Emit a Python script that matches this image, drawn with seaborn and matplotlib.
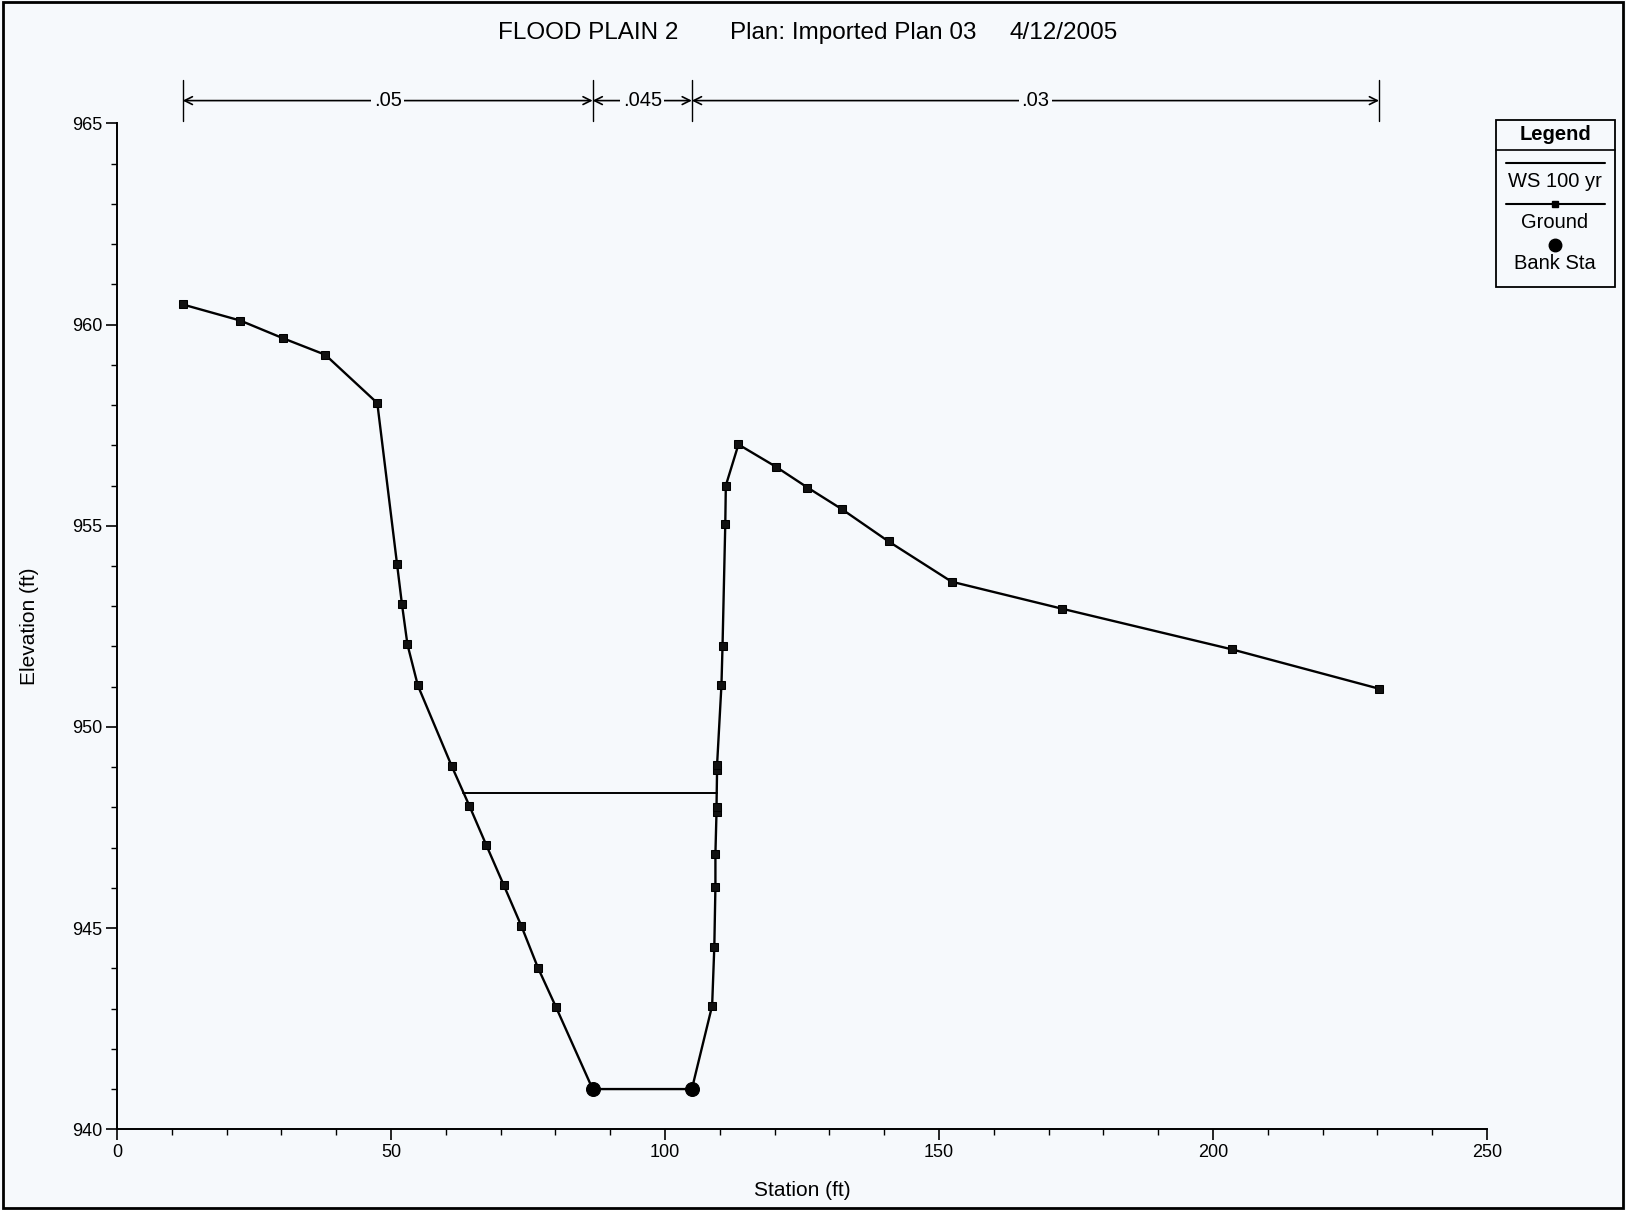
import numpy as np
import pandas as pd
import matplotlib
matplotlib.use("Agg")
import matplotlib.pyplot as plt
from matplotlib.lines import Line2D
from matplotlib.patches import Rectangle
from matplotlib.ticker import MultipleLocator
from matplotlib.transforms import blended_transform_factory
import seaborn as sns

# Cross-section survey (station ft, elevation ft)
ground_station = [12.0, 22.5, 30.3, 38.0, 47.5, 51.1, 52.0, 53.0, 54.9, 61.1,
                  64.3, 67.4, 70.6, 73.8, 76.8, 80.1, 86.8, 104.9, 108.6, 109.0,
                  109.2, 109.2, 109.4, 109.4, 109.5, 109.5, 110.3, 110.5, 111.0, 111.1,
                  113.4, 120.2, 126.0, 132.3, 140.8, 152.3, 172.4, 203.4, 230.3]
ground_elevation = [960.5, 960.1, 959.66, 959.25, 958.05, 954.05, 953.05, 952.05, 951.03, 949.02,
                    948.04, 947.06, 946.06, 945.05, 944.02, 943.04, 941.0, 941.0, 943.07, 944.54,
                    946.03, 946.85, 947.89, 948.0, 948.93, 949.05, 951.04, 952.02, 955.05, 956.0,
                    957.02, 956.47, 955.95, 955.41, 954.61, 953.61, 952.94, 951.93, 950.95]

bank_station = [86.8, 104.9]
bank_elevation = [941.0, 941.0]

ws_elevation = 948.37  # WS 100 yr

n_breaks = [12.0, 86.8, 104.9, 230.3]
n_values = [".05", ".045", ".03"]

title_parts = ["FLOOD PLAIN 2", "Plan: Imported Plan 03", "4/12/2005"]
legend_entries = ["WS 100 yr", "Ground", "Bank Sta"]

W, H = 1626, 1210
BG = "#f6f9fc"

sns.set_theme(style="ticks")
plt.rcParams["font.family"] = ["Liberation Sans", "DejaVu Sans"]

fig = plt.figure(figsize=(W / 100, H / 100), dpi=100, facecolor=BG)


def fx(px):
    return px / W


def fy(py):
    return 1 - py / H


ax_l, ax_r, ax_t, ax_b = 117, 1487, 123.4, 1129.3
ax = fig.add_axes([fx(ax_l), fy(ax_b), fx(ax_r - ax_l), (ax_b - ax_t) / H])
ax.set_facecolor(BG)

ground = pd.DataFrame({"station": ground_station, "elevation": ground_elevation})
banks = pd.DataFrame({"station": bank_station, "elevation": bank_elevation})

# water surface spans between the two ground intersections
i_min = int(np.argmin(ground_elevation))
left = ground.iloc[: i_min + 1]
right_end = int(np.argmax(ground_elevation[i_min + 1:])) + i_min + 1
right = ground.iloc[i_min + 1: right_end + 1]
ws_left = np.interp(ws_elevation, left["elevation"].values[::-1], left["station"].values[::-1])
ws_right = np.interp(ws_elevation, right["elevation"].values, right["station"].values)
ws = pd.DataFrame({"station": [ws_left, ws_right], "elevation": [ws_elevation, ws_elevation]})

sns.lineplot(data=ws, x="station", y="elevation", color="black", lw=1.4, ax=ax,
             sort=False, estimator=None)
sns.lineplot(data=ground, x="station", y="elevation", color="black", lw=1.7, ax=ax,
             sort=False, estimator=None, marker="s", markersize=5.5,
             markeredgecolor="black", markerfacecolor="#111111")
sns.scatterplot(data=banks, x="station", y="elevation", color="black", s=100,
                marker="o", edgecolor="black", ax=ax, zorder=5)

ax.set_xlim(0, 250)
ax.set_ylim(940, 965)
ax.xaxis.set_major_locator(MultipleLocator(50))
ax.xaxis.set_minor_locator(MultipleLocator(10))
ax.yaxis.set_major_locator(MultipleLocator(5))
ax.yaxis.set_minor_locator(MultipleLocator(1))
ax.tick_params(which="major", direction="out", length=8, width=1.2, color="black",
               labelsize=13, labelcolor="black", pad=2.5)
ax.tick_params(which="minor", direction="out", length=4, width=1.0, color="black")
for side in ("top", "right"):
    ax.spines[side].set_visible(False)
for side in ("left", "bottom"):
    ax.spines[side].set_color("black")
    ax.spines[side].set_linewidth(1.4)

ax.set_xlabel("Station (ft)", fontsize=15, color="black")
ax.set_ylabel("Elevation (ft)", fontsize=15, color="black")
ax.xaxis.set_label_coords(0.5, -(1181 - ax_b) / (ax_b - ax_t))
ax.yaxis.set_label_coords(-(ax_l - 39) / (ax_r - ax_l), 0.5)

# Manning's n dimension bar above the plot
trans = blended_transform_factory(ax.transData, ax.transAxes)
span = ax_b - ax_t
y_dim = 1 + (ax_t - 100.6) / span
y_top = 1 + (ax_t - 80) / span
y_bot = 1 + (ax_t - 121) / span
for b in n_breaks:
    ax.plot([b, b], [y_bot, y_top], color="black", lw=1.0, transform=trans, clip_on=False)
for a, b, n in zip(n_breaks[:-1], n_breaks[1:], n_values):
    ax.annotate("", xy=(b, y_dim), xytext=(a, y_dim), xycoords=trans, textcoords=trans,
                arrowprops=dict(arrowstyle="<->", lw=1.2, color="black",
                                shrinkA=0, shrinkB=0, mutation_scale=14),
                annotation_clip=False)
    ax.text((a + b) / 2, y_dim, n, transform=trans, ha="center", va="center",
            fontsize=14.5, color="black", clip_on=False,
            bbox=dict(boxstyle="square,pad=0.12", fc=BG, ec="none"))

# title
for x0, t in zip([497.8, 730, 1009], title_parts):
    fig.text(fx(x0), fy(33), t, ha="left", va="center", fontsize=17.5, color="black")

# legend panel
lx0, lx1, ly0, ly1 = 1495.5, 1614.6, 120.3, 287.3
fig.patches.append(Rectangle((fx(lx0), fy(ly1)), fx(lx1 - lx0), (ly1 - ly0) / H,
                             transform=fig.transFigure, fill=False, ec="black", lw=1.3))
fig.add_artist(Line2D([fx(lx0), fx(lx1)], [fy(150.4), fy(150.4)], transform=fig.transFigure,
                      color="black", lw=1.2))
lcx = (lx0 + lx1) / 2
fig.text(fx(lcx), fy(134), "Legend", ha="center", va="center", fontsize=14.5,
         fontweight="bold", color="black")
fig.add_artist(Line2D([fx(1506), fx(1605)], [fy(162.8), fy(162.8)], transform=fig.transFigure,
                      color="black", lw=1.5))
fig.text(fx(lcx), fy(181.5), legend_entries[0], ha="center", va="center", fontsize=14.5, color="black")
fig.add_artist(Line2D([fx(1506), fx(1605)], [fy(204.3), fy(204.3)], transform=fig.transFigure,
                      color="black", lw=1.5))
fig.add_artist(Line2D([fx(lcx)], [fy(204.3)], transform=fig.transFigure, color="black",
                      marker="s", markersize=5, lw=0))
fig.text(fx(lcx), fy(223), legend_entries[1], ha="center", va="center", fontsize=14.5, color="black")
fig.add_artist(Line2D([fx(lcx)], [fy(244.7)], transform=fig.transFigure, color="black",
                      marker="o", markersize=9, lw=0))
fig.text(fx(lcx), fy(263.4), legend_entries[2], ha="center", va="center", fontsize=14.5, color="black")

# outer frame
fig.patches.append(Rectangle((0.002, 0.002), 0.996, 0.996, transform=fig.transFigure,
                             fill=False, ec="black", lw=2.0))

fig.savefig("out.png", dpi=100, facecolor=BG)
